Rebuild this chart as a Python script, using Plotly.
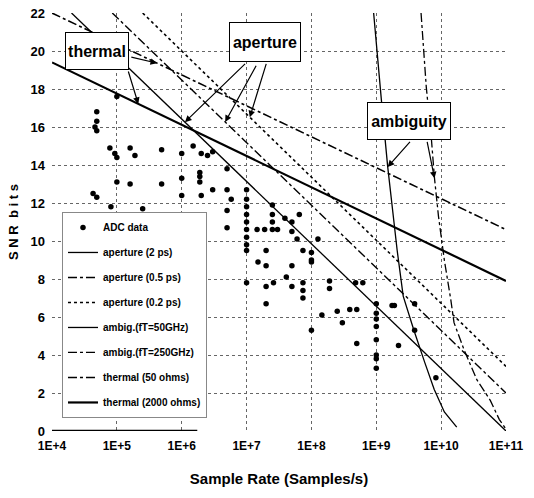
import numpy as np
import plotly.graph_objects as go

# ---- ADC survey data (sample rate in samples/s, SNR in bits) ----
adc_rate = [
    4.9e4, 4.9e4, 4.6e4, 4.9e4, 1e5,
    7.8e4, 9.3e4, 1e5, 1.6e5, 1.9e5,
    4.9e5, 1e6, 1.5e6, 2e6, 2.5e6, 3e6,
    1e5, 1.6e5, 4.9e5, 1e6, 1e6,
    1.9e6, 1.9e6, 1.9e6, 2e6, 3e6,
    5e6, 5e6, 5.8e6,
    4.3e4, 4.9e4, 8.1e4, 2.5e5,
    2.1e6, 5e6, 5e6,
    1e7, 1e7, 1e7, 1e7, 1e7, 1e7, 1e7, 1e7, 1e7,
    1.45e7, 1.9e7, 2e7, 1.5e7, 2e7,
    2.5e7, 2.5e7, 2.5e7, 2.5e7, 3e7,
    3.9e7, 5e7, 6.5e7,
    5e7, 6e7, 7.4e7, 1.26e8, 1e8, 1e8,
    5e7, 1e8,
    1e7, 2e7, 2.6e7, 4.1e7, 5e7, 2e7,
    7.4e7, 7.4e7, 7.4e7,
    1.9e8, 1.9e8, 4.8e8, 6.2e8,
    1.45e8, 2.5e8, 3e8, 3.9e8, 5e8,
    1e8, 5e8,
    1e9, 1e9, 1e9, 1e9, 1e9, 1e9, 1e9, 1e9,
    1.75e9, 1.9e9, 2.2e9, 3.9e9, 3.9e9, 8.3e9,
]
adc_snr = [
    16.8, 16.3, 16.0, 15.8, 17.6,
    14.9, 14.6, 14.4, 14.9, 14.5,
    14.8, 14.6, 15.0, 14.6, 14.5, 14.7,
    13.1, 13.0, 13.0, 13.3, 12.4,
    13.6, 13.4, 13.1, 12.4, 12.7,
    13.8, 12.7, 12.2,
    12.5, 12.3, 11.8, 11.7,
    11.2, 11.6, 10.7,
    12.7, 12.2, 11.8, 11.4, 11.0, 10.6, 10.2, 9.8, 9.5,
    10.6, 10.6, 9.5, 8.9, 8.7,
    11.9, 11.4, 11.0, 10.6, 10.6,
    11.2, 11.0, 11.4,
    10.5, 10.1, 9.5, 10.1, 9.4, 9.0,
    8.7, 8.9,
    7.8, 7.6, 7.8, 8.1, 7.6, 6.7,
    7.8, 7.4, 7.0,
    7.9, 7.5, 7.8, 7.8,
    6.1, 6.3, 5.7, 6.4, 6.4,
    5.3, 4.6,
    6.7, 6.2, 5.9, 5.5, 4.8, 4.0, 3.8, 3.3,
    6.6, 6.6, 4.5, 6.7, 5.3, 2.8,
]

# ---- limit lines ----
ap2_rate = [2.0e4, 1e11]
ap2_snr = [22.0, 0.0]
ap05_rate = [8.5e4, 1e11]
ap05_snr = [22.0, 2.0]
ap02_rate = [2.5e5, 1e11]
ap02_snr = [22.0, 3.4]

amb50_rate = [9.1e8, 1.05e9, 1.2e9, 1.5e9, 2.1e9, 2.6e9, 3.8e9, 5.6e9, 7.8e9, 1.12e10, 1.74e10]
amb50_snr = [22.0, 19.8, 17.4, 13.9, 9.5, 7.1, 5.3, 3.6, 2.2, 1.0, 0.2]

amb250_rate = [4.9e9, 5.25e9, 5.9e9, 7.1e9, 7.9e9, 9.1e9, 1.12e10, 1.41e10, 1.58e10,
               2.24e10, 3.55e10, 5.75e10, 7.9e10, 1e11]
amb250_snr = [22.0, 20.4, 18.1, 15.3, 13.3, 11.3, 9.0, 6.9, 5.7, 4.3, 2.7, 1.6, 0.6, 0.1]

th50_rate = [1e4, 1e11]
th50_snr = [22.0, 10.6]
th2000_rate = [1e4, 1e11]
th2000_snr = [19.4, 7.9]

x_ticks = [1e4, 1e5, 1e6, 1e7, 1e8, 1e9, 1e10, 1e11]
x_ticktext = ["1E+4", "1E+5", "1E+6", "1E+7", "1E+8", "1E+9", "1E+10", "1E+11"]
y_ticks = list(range(0, 23, 2))

FONT = "Liberation Sans, Arial, sans-serif"

fig = go.Figure()


def add_line(name, xs, ys, dash, width, group):
    fig.add_trace(go.Scatter(
        x=xs, y=ys, mode="lines", name=name, legendgroup=group,
        line=dict(color="black", dash=dash, width=width),
    ))


fig.add_trace(go.Scatter(
    x=adc_rate, y=adc_snr, mode="markers", name="ADC data", legendgroup="g0",
    marker=dict(color="black", size=5.5, symbol="circle"),
))
add_line("aperture (2 ps)", ap2_rate, ap2_snr, "solid", 1.3, "g1")
add_line("aperture (0.5 ps)", ap05_rate, ap05_snr, "dashdot", 1.4, "g2")
add_line("aperture (0.2 ps)", ap02_rate, ap02_snr, "dot", 1.6, "g3")
add_line("ambig.(fT=50GHz)", amb50_rate, amb50_snr, "solid", 1.3, "g4")
add_line("ambig.(fT=250GHz)", amb250_rate, amb250_snr, "dashdot", 1.3, "g5")
add_line("thermal (50 ohms)", th50_rate, th50_snr, "dashdot", 1.6, "g6")
add_line("thermal (2000 ohms)", th2000_rate, th2000_snr, "solid", 2.2, "g7")


def on_line(xs, ys, lx):
    """SNR on a straight (log-x) limit line at log10 rate lx."""
    return float(np.interp(lx, np.log10(xs), ys))


annotations = []


def label_box(text, lx, y, w, h):
    annotations.append(dict(
        x=lx, y=y, xref="x", yref="y", text="<b>%s</b>" % text, showarrow=False,
        font=dict(family=FONT, size=16, color="black"),
        bgcolor="white", bordercolor="black", borderwidth=1, width=w, height=h,
    ))


def arrow(tx, ty, hx, hy):
    annotations.append(dict(
        x=hx, y=hy, ax=tx, ay=ty, xref="x", yref="y", axref="x", ayref="y",
        text="", showarrow=True, arrowhead=2, arrowsize=1.1, arrowwidth=1.2,
        arrowcolor="black",
    ))


# thermal label and pointers
arrow(5.2, 19.7, 5.62, on_line(th50_rate, th50_snr, 5.62))
arrow(5.17, 19.0, 5.33, on_line(th2000_rate, th2000_snr, 5.33))
label_box("thermal", 4.69, 20.0, 60, 34)

# aperture label and pointers
arrow(7.0, 19.4, 6.05, on_line(ap2_rate, ap2_snr, 6.05))
arrow(7.16, 19.3, 6.67, on_line(ap05_rate, ap05_snr, 6.67))
arrow(7.31, 19.4, 7.05, on_line(ap02_rate, ap02_snr, 7.05))
label_box("aperture", 7.28, 20.45, 68, 36)

# ambiguity label and pointers
arrow(9.54, 15.3, float(np.log10(amb50_rate[3])), amb50_snr[3])
arrow(9.78, 15.3, float(np.log10(amb250_rate[4])), amb250_snr[4])
label_box("ambiguity", 9.50, 16.3, 80, 34)

fig.update_layout(
    width=534, height=498,
    margin=dict(l=52, r=28, t=13, b=67, autoexpand=False),
    paper_bgcolor="white", plot_bgcolor="white",
    showlegend=True,
    legend=dict(
        x=0.022, y=0.524, xanchor="left", yanchor="top",
        bgcolor="white", bordercolor="#888", borderwidth=1,
        font=dict(family=FONT, size=10, color="black", weight="bold"),
        traceorder="grouped", tracegroupgap=6, itemwidth=30,
    ),
    annotations=annotations,
    shapes=[dict(type="line", xref="x domain", yref="y", x0=0, x1=0.32, y0=0, y1=0,
                 line=dict(color="black", width=2.5))],
    xaxis=dict(
        type="log", range=[4, 11], tickvals=x_ticks, ticktext=x_ticktext,
        showgrid=True, gridcolor="#666", griddash="dot", gridwidth=1,
        zeroline=False, showline=False, ticks="", ticklabelstandoff=6,
        tickfont=dict(family=FONT, size=12, color="black", weight="bold"),
        title=dict(text="<b>Sample Rate (Samples/s)</b>", standoff=21,
                   font=dict(family=FONT, size=15, color="black")),
    ),
    yaxis=dict(
        range=[0, 22], tickvals=y_ticks,
        showgrid=True, gridcolor="#666", griddash="dot", gridwidth=1,
        zeroline=False, showline=False, ticks="", ticklabelstandoff=6,
        tickfont=dict(family=FONT, size=13, color="black", weight="bold"),
        title=dict(text="<b>S N R  b i t s</b>", standoff=8,
                   font=dict(family=FONT, size=13, color="black")),
    ),
)

fig.write_html("out.html")
